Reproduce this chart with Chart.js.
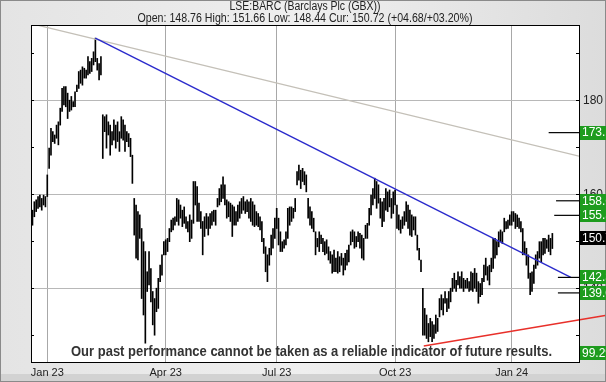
<!DOCTYPE html>
<html>
<head>
<meta charset="utf-8">
<title>LSE:BARC</title>
<script src="https://cdn.jsdelivr.net/npm/chart.js@4.4.1/dist/chart.umd.min.js"></script>
<style>
  html, body { margin: 0; padding: 0; background: #ebebeb; }
  #wrap { width: 606px; height: 382px; position: relative; }
</style>
</head>
<body>
<div id="wrap"><canvas id="priceChart" width="606" height="382"></canvas></div>
<script>
// daily bars, trading-day index 0 = 19 Dec 2022
const highs = [
  156.6,158.4,158.8,159.5,159.8,159.1,159.8,159.5,164.1,169.8,
  174.0,173.3,172.6,174.7,175.4,178.3,182.5,182.9,182.9,181.5,
  180.0,180.8,179.7,181.8,183.2,186.1,186.4,187.1,186.8,186.4,
  189.3,188.2,188.9,190.3,193.2,188.9,187.8,189.3,176.9,176.5,
  176.9,175.4,174.7,173.3,175.8,174.7,175.4,173.3,176.5,175.8,
  174.7,173.3,172.9,171.9,168.3,159.1,157.7,156.3,155.6,152.7,
  149.9,147.8,143.5,147.8,144.2,139.3,137.8,140.0,142.1,144.9,
  147.1,149.9,150.3,150.6,152.7,154.5,154.9,155.2,159.1,158.8,
  157.7,156.6,157.3,155.2,154.2,155.6,154.5,162.7,162.7,161.6,
  158.1,156.3,154.2,155.2,155.9,155.2,155.9,156.3,156.6,156.6,
  159.1,161.2,162.0,163.7,162.0,158.8,158.4,158.1,157.7,157.3,
  156.3,157.7,158.4,159.1,159.5,158.4,158.8,158.4,159.1,158.4,
  157.7,156.3,155.9,155.2,154.2,150.6,148.8,147.1,148.5,151.3,
  152.7,154.9,157.0,154.9,152.0,149.9,150.3,152.0,157.0,157.3,
  157.3,157.0,159.1,164.8,166.2,165.1,165.5,164.8,164.1,159.1,
  157.3,156.3,154.9,152.0,150.6,152.0,151.3,150.6,149.9,150.3,
  148.8,147.8,147.1,148.1,146.4,147.8,146.7,147.4,146.4,147.4,
  148.1,149.2,152.0,152.4,152.0,151.0,152.0,151.7,151.3,150.6,
  153.4,153.8,157.0,159.8,161.2,163.4,162.7,162.0,159.1,158.4,
  159.1,161.2,160.5,160.9,159.1,160.5,160.9,157.7,155.6,154.5,
  155.2,156.3,158.4,157.7,156.6,155.6,155.2,155.2,151.3,148.5,
  146.0,140.0,135.7,134.3,132.5,133.6,132.9,132.2,134.3,133.6,
  137.8,138.6,137.8,139.3,137.8,139.3,140.0,142.1,143.2,141.7,
  143.5,142.5,143.5,142.1,141.7,142.1,141.4,143.5,143.2,144.2,
  143.2,141.4,141.0,142.1,144.9,146.4,144.6,144.9,146.4,150.6,
  150.6,149.9,152.0,152.4,152.0,154.9,154.2,154.5,155.6,156.3,
  156.3,155.9,155.6,154.9,154.2,152.7,149.9,148.5,147.1,143.2,
  143.5,144.9,147.1,147.8,149.9,149.9,150.6,150.6,150.3,151.3,
  150.6,151.66
];
const lows = [
  153.4,155.2,156.3,157.0,157.3,156.6,157.7,157.3,159.5,165.5,
  168.3,171.2,170.8,171.9,170.5,174.7,177.6,179.0,178.6,176.1,
  177.6,177.9,178.6,178.6,181.8,182.5,183.6,183.2,184.7,184.7,
  185.4,185.7,186.1,187.5,188.2,186.4,184.3,185.4,167.6,173.3,
  169.8,172.6,168.3,170.5,171.5,169.8,171.2,169.1,171.9,171.5,
  169.1,171.2,170.1,168.0,162.3,151.3,146.4,146.0,150.6,137.8,
  134.3,128.3,139.3,140.7,137.1,132.2,130.0,135.0,135.7,141.4,
  142.8,147.1,147.1,147.8,149.9,152.0,152.4,153.4,154.2,153.4,
  154.9,153.1,153.8,152.7,152.0,149.9,150.6,153.8,157.7,154.2,
  154.2,152.7,147.1,151.0,152.7,151.3,152.7,153.4,154.2,153.4,
  157.3,157.7,158.4,159.1,157.7,154.9,155.2,154.2,151.0,153.4,
  153.4,154.2,154.9,155.9,156.6,155.9,156.3,154.9,154.2,153.4,
  153.1,153.4,153.1,152.4,149.9,147.4,143.5,141.4,144.9,147.1,
  148.5,150.6,152.7,149.2,147.8,147.8,148.5,149.2,150.6,153.4,
  154.2,154.9,156.3,162.0,163.0,161.2,162.7,162.0,160.5,154.9,
  153.4,152.7,152.0,147.1,148.8,147.8,149.5,147.8,147.1,147.4,
  146.0,145.3,143.2,143.5,143.5,143.2,143.5,144.9,142.8,143.9,
  144.9,145.6,149.2,149.9,148.5,148.8,149.9,148.5,146.4,146.0,
  150.6,150.6,153.4,155.6,157.7,159.1,157.0,158.1,154.9,153.1,
  154.2,156.6,156.3,157.3,154.9,155.9,157.7,152.7,152.4,151.7,
  152.7,153.4,154.2,152.7,151.3,151.0,152.4,151.3,148.1,146.0,
  143.5,130.0,130.0,129.3,128.6,129.7,128.6,129.3,130.4,130.8,
  133.9,135.4,134.3,136.8,135.0,135.7,137.1,139.3,140.0,139.3,
  140.7,140.0,140.0,139.3,140.0,140.0,139.3,139.6,139.3,140.0,
  139.3,136.8,138.2,138.6,141.4,142.8,141.7,140.7,143.5,144.2,
  146.4,147.1,148.8,149.9,149.5,152.0,152.6,152.7,153.4,153.4,
  154.2,152.7,153.1,152.7,152.0,147.1,147.1,144.9,142.1,138.6,
  139.3,141.0,144.2,144.9,146.4,145.6,147.1,147.4,148.5,147.8,
  147.1,148.44
];

// x axis: first trading day of each quarter
const quarterIdx = [8, 72, 132, 196, 259];
const quarterLabels = ['Jan 23', 'Apr 23', 'Jul 23', 'Oct 23', 'Jan 24'];
const yTicks = [130, 140, 150, 160, 170, 180, 190];

// drawn trend lines [startIdx, startPrice, endIdx, endPrice]
const downTrend = [34, 193.2, 291, 142.3];
const longTrend = [-0.8, 196.3, 295.4, 168.1];
const supportTrend = [211.5, 127.7, 309.5, 134.2];

// target / stop levels on the right
const levels = [173.1, 158.6, 155.5, 142.3, 139.0];
const levelFrom = [279, 283, 282, 284, 284];
const levelText = ['173.1', '158.6', '155.5', '142.3', '139.0'];
const curPrice = 150.72;
const curText = '150.7';
const floorText = '99.29';

const title = 'LSE:BARC (Barclays Plc (GBX))';
const subTitle = 'Open: 148.76 High: 151.66 Low: 148.44 Cur: 150.72 (+04.68/+03.20%)';
const disclaimer = 'Our past performance cannot be taken as a reliable indicator of future results.';

const X_MIN = -0.8, X_MAX = 295.4;
const Y_MIN = 124.3, Y_MAX = 196.0;
const FONT = '"Liberation Sans", Arial, sans-serif';

function segment(t) {
    return [{ x: t[0], y: t[1] }, { x: t[2], y: t[3] }];
}

// text squeezed to a given width, keeps glyph height
function fitText(ctx, text, x, y, width) {
    const w = ctx.measureText(text).width;
    ctx.save();
    ctx.translate(x, y);
    ctx.scale(width / w, 1);
    ctx.fillText(text, 0, 0);
    ctx.restore();
}

/**
 * Background, plot frame, header text
 */
const framePlugin = {
    id: 'frame',
    beforeDraw(chart) {
        const { ctx, chartArea: a, width, height } = chart;
        ctx.save();
        const g = ctx.createLinearGradient(0, 0, width, 0);
        g.addColorStop(0, '#e4e4e4');
        g.addColorStop(0.5, '#efefef');
        g.addColorStop(1, '#dcdcdc');
        ctx.fillStyle = g;
        ctx.fillRect(0, 0, width, height);
        ctx.fillStyle = '#d2d2d2';
        ctx.fillRect(0, height - 8, width, 8);
        ctx.strokeStyle = '#8a8a8a';
        ctx.strokeRect(0.5, 0.5, width - 1, height - 1);
        ctx.fillStyle = '#ffffff';
        ctx.fillRect(a.left, a.top, a.right - a.left, a.bottom - a.top);

        ctx.fillStyle = '#222';
        ctx.font = '12px ' + FONT;
        ctx.textAlign = 'center';
        ctx.textBaseline = 'middle';
        fitText(ctx, title, 305, 7, 151);
        fitText(ctx, subTitle, 305, 19, 335);
        ctx.restore();
    },
    afterDraw(chart) {
        const { ctx, chartArea: a } = chart;
        const ys = chart.scales.y;
        ctx.save();

        // small inner ticks on both sides
        ctx.strokeStyle = '#000';
        ctx.lineWidth = 1;
        yTicks.forEach(v => {
            const py = Math.round(ys.getPixelForValue(v)) + 0.5;
            ctx.beginPath();
            ctx.moveTo(a.left, py); ctx.lineTo(a.left + 3, py);
            ctx.moveTo(a.right - 3, py); ctx.lineTo(a.right, py);
            ctx.stroke();
        });

        // plot border
        ctx.strokeRect(Math.round(a.left) + 0.5, Math.round(a.top) + 0.5,
            Math.round(a.right - a.left), Math.round(a.bottom - a.top));

        // disclaimer
        ctx.font = 'bold 15px ' + FONT;
        ctx.fillStyle = '#333';
        ctx.textBaseline = 'alphabetic';
        ctx.textAlign = 'left';
        fitText(ctx, disclaimer, 71, 356, 481);

        // price boxes
        ctx.font = '12px ' + FONT;
        ctx.textBaseline = 'middle';
        const box = (val, text, bg) => {
            let py = ys.getPixelForValue(val);
            if (py > a.bottom - 9) py = a.bottom - 9;
            ctx.fillStyle = bg;
            ctx.fillRect(a.right + 1, Math.round(py) - 7, 40, 14);
            ctx.fillStyle = '#fff';
            ctx.fillText(text, a.right + 3, py + 0.5);
        };
        levels.forEach((v, i) => box(v, levelText[i], '#1e9c1e'));
        box(curPrice, curText, '#000');
        box(Y_MIN - 10, floorText, '#1e9c1e');
        ctx.restore();
    }
};

function initPriceChart() {
    const canvas = document.getElementById('priceChart');
    const ctx = canvas.getContext('2d');

    const bars = highs.map((h, i) => ({ x: i, y: [lows[i], h] }));

    const datasets = [
        {
            type: 'bar',
            data: bars,
            backgroundColor: '#000',
            borderWidth: 0,
            barThickness: 1,
            order: 10
        },
        {
            type: 'line',
            data: segment(longTrend),
            borderColor: '#c4c0b8',
            borderWidth: 1.3,
            pointRadius: 0,
            order: 3
        },
        {
            type: 'line',
            data: segment(downTrend),
            borderColor: '#2b2bcc',
            borderWidth: 1.4,
            pointRadius: 0,
            order: 1
        },
        {
            type: 'line',
            data: segment(supportTrend),
            borderColor: '#e8302a',
            borderWidth: 1.4,
            pointRadius: 0,
            clip: false,
            order: 2
        }
    ];

    levels.forEach((v, i) => {
        datasets.push({
            type: 'line',
            data: [{ x: levelFrom[i], y: v }, { x: X_MAX, y: v }],
            borderColor: '#000',
            borderWidth: 1.2,
            pointRadius: 0,
            order: 0
        });
    });

    new Chart(ctx, {
        type: 'bar',
        data: { datasets: datasets },
        plugins: [framePlugin],
        options: {
            responsive: false,
            animation: false,
            events: [],
            layout: { padding: { top: 25, left: 0, right: 0, bottom: 0 } },
            plugins: {
                legend: { display: false },
                tooltip: { enabled: false }
            },
            scales: {
                x: {
                    type: 'linear',
                    offset: false,
                    min: X_MIN,
                    max: X_MAX,
                    afterBuildTicks: s => { s.ticks = quarterIdx.map(v => ({ value: v })); },
                    afterFit: s => { s.height = 20; },
                    grid: { color: '#a8a8a8', drawTicks: false, offset: false },
                    border: { display: false },
                    ticks: {
                        color: '#222',
                        font: { family: FONT, size: 11 },
                        padding: 4,
                        maxRotation: 0,
                        autoSkip: false,
                        callback: v => quarterLabels[quarterIdx.indexOf(v)]
                    }
                },
                y: {
                    position: 'right',
                    min: Y_MIN,
                    max: Y_MAX,
                    afterBuildTicks: s => { s.ticks = yTicks.map(v => ({ value: v })); },
                    afterFit: s => { s.width = 27; },
                    grid: {
                        color: c => (c.tick && c.tick.value % 20 === 0) ? '#b8b8b8' : 'rgba(0,0,0,0)',
                        drawTicks: false
                    },
                    border: { display: false },
                    ticks: {
                        color: '#222',
                        font: { family: FONT, size: 12 },
                        padding: 4,
                        callback: v => (v % 20 === 0 ? String(v) : '')
                    }
                },
                yl: {
                    position: 'left',
                    min: Y_MIN,
                    max: Y_MAX,
                    afterFit: s => { s.width = 31; },
                    grid: { display: false },
                    border: { display: false },
                    ticks: { display: false }
                }
            }
        }
    });
}

document.addEventListener('DOMContentLoaded', initPriceChart);
</script>
</body>
</html>
